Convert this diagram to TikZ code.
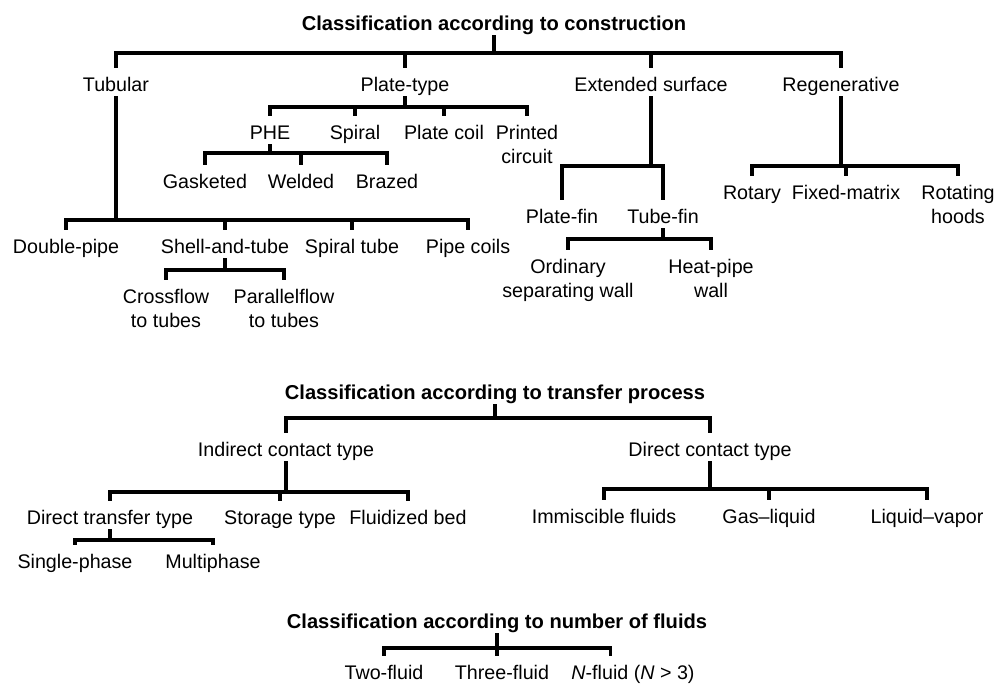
\documentclass[tikz,border=0pt]{standalone}
\usepackage{fontspec}
\setmainfont{Liberation Sans}
\tikzset{lbl/.style={font=\fontsize{14}{16.5}\selectfont,inner sep=0pt,text height=10pt,text depth=3pt}}
\tikzset{ttl/.style={lbl,font=\fontsize{14.3}{16}\selectfont\bfseries}}
\tikzset{link/.style={line width=2.2pt}}
\tikzset{drop/.style={link,shorten >=6.5pt}}
\newcommand{\twoline}[2]{\begin{tabular}[t]{@{}c@{}}#1\\#2\end{tabular}}
\begin{document}
\begin{tikzpicture}[x=0.025cm,y=-0.025cm]
    \useasboundingbox (0,0) rectangle (1008,684);
    \node[ttl] (t1) at (494,26) {Classification according to construction};
    \node[lbl] (tub) at (116,87) {Tubular};
    \node[lbl] (plate) at (405,87) {Plate-type};
    \node[lbl] (ext) at (651,87) {Extended surface};
    \node[lbl] (regen) at (841,87) {Regenerative};
    \coordinate (topbar) at (494,53);
    \draw[link] (t1.south) -- (topbar);
    \foreach \c in {tub,plate,ext,regen} \draw[drop] (topbar) -| (\c.north);
    \node[lbl] (phe) at (270,135) {PHE};
    \node[lbl] (spiral) at (355,135) {Spiral};
    \node[lbl] (pcoil) at (444,135) {Plate coil};
    \node[lbl] (printed) at (527,135) {\twoline{Printed}{circuit}};
    \coordinate (platebar) at (405,107);
    \draw[link] (plate.south) -- (platebar);
    \foreach \c in {phe,spiral,pcoil,printed} \draw[drop] (platebar) -| (\c.north);
    \node[lbl] (gask) at (205,184) {Gasketed};
    \node[lbl] (weld) at (301,184) {Welded};
    \node[lbl] (braz) at (387,184) {Brazed};
    \coordinate (phebar) at (270,153);
    \draw[link] (phe.south) -- (phebar);
    \foreach \c in {gask,weld,braz} \draw[drop] (phebar) -| (\c.north);
    \node[lbl] (dpipe) at (66,249) {Double-pipe};
    \node[lbl] (shell) at (225,249) {Shell-and-tube};
    \node[lbl] (sptube) at (352,249) {Spiral tube};
    \node[lbl] (pipe) at (468,249) {Pipe coils};
    \coordinate (tubbar) at (116,220);
    \draw[link] (tub.south) -- (tubbar);
    \foreach \c in {dpipe,shell,sptube,pipe} \draw[drop] (tubbar) -| (\c.north);
    \node[lbl] (cross) at (166,299) {\twoline{Crossflow}{to tubes}};
    \node[lbl] (para) at (284,299) {\twoline{Parallelflow}{to tubes}};
    \coordinate (shellbar) at (225,270);
    \draw[link] (shell.south) -- (shellbar);
    \foreach \c in {cross,para} \draw[drop] (shellbar) -| (\c.north);
    \node[lbl] (pfin) at (562,219) {Plate-fin};
    \node[lbl] (tfin) at (663,219) {Tube-fin};
    \coordinate (extbar) at (651,166);
    \draw[link] (ext.south) -- (extbar);
    \foreach \c in {pfin,tfin} \draw[drop] (extbar) -| (\c.north);
    \node[lbl] (ordin) at (568,269) {\twoline{Ordinary}{separating wall}};
    \node[lbl] (hpipe) at (711,269) {\twoline{Heat-pipe}{wall}};
    \coordinate (tfinbar) at (663,239);
    \draw[link] (tfin.south) -- (tfinbar);
    \foreach \c in {ordin,hpipe} \draw[drop] (tfinbar) -| (\c.north);
    \node[lbl] (rotary) at (752,195) {Rotary};
    \node[lbl] (fixed) at (846,195) {Fixed-matrix};
    \node[lbl] (rothood) at (958,195) {\twoline{Rotating}{hoods}};
    \coordinate (regenbar) at (841,166);
    \draw[link] (regen.south) -- (regenbar);
    \foreach \c in {rotary,fixed,rothood} \draw[drop] (regenbar) -| (\c.north);
    \node[ttl] (t2) at (495,395) {Classification according to transfer process};
    \node[lbl] (indir) at (286,452) {Indirect contact type};
    \node[lbl] (direct) at (710,452) {Direct contact type};
    \coordinate (midbar) at (495,418);
    \draw[link] (t2.south) -- (midbar);
    \foreach \c in {indir,direct} \draw[drop] (midbar) -| (\c.north);
    \node[lbl] (dtrans) at (110,520) {Direct transfer type};
    \node[lbl] (storage) at (280,520) {Storage type};
    \node[lbl] (fluid) at (408,520) {Fluidized bed};
    \coordinate (indbar) at (286,492);
    \draw[link] (indir.south) -- (indbar);
    \foreach \c in {dtrans,storage,fluid} \draw[drop] (indbar) -| (\c.north);
    \node[lbl] (single) at (75,564) {Single-phase};
    \node[lbl] (multi) at (213,564) {Multiphase};
    \coordinate (dtbar) at (110,540);
    \draw[link] (dtrans.south) -- (dtbar);
    \foreach \c in {single,multi} \draw[drop] (dtbar) -| (\c.north);
    \node[lbl] (immisc) at (604,519) {Immiscible fluids};
    \node[lbl] (gasliq) at (769,519) {Gas--liquid};
    \node[lbl] (liqvap) at (927,519) {Liquid--vapor};
    \coordinate (dirbar) at (710,489);
    \draw[link] (direct.south) -- (dirbar);
    \foreach \c in {immisc,gasliq,liqvap} \draw[drop] (dirbar) -| (\c.north);
    \node[ttl] (t3) at (497,624) {Classification according to number of fluids};
    \node[lbl] (two) at (384,675) {Two-fluid};
    \node[lbl] (three) at (502,675) {Three-fluid};
    \node[lbl] (nfluid) at (633,675) {\textit{N}-fluid (\textit{N} > 3)};
    \coordinate (botbar) at (497,648);
    \draw[link] (t3.south) -- (botbar);
    \draw[drop] (botbar) -| (two.north);
    \draw[drop] (botbar) -- (botbar |- three.north);
    \draw[drop] (botbar) -| ([xshift=-16pt]nfluid.north);
\end{tikzpicture}
\end{document}
